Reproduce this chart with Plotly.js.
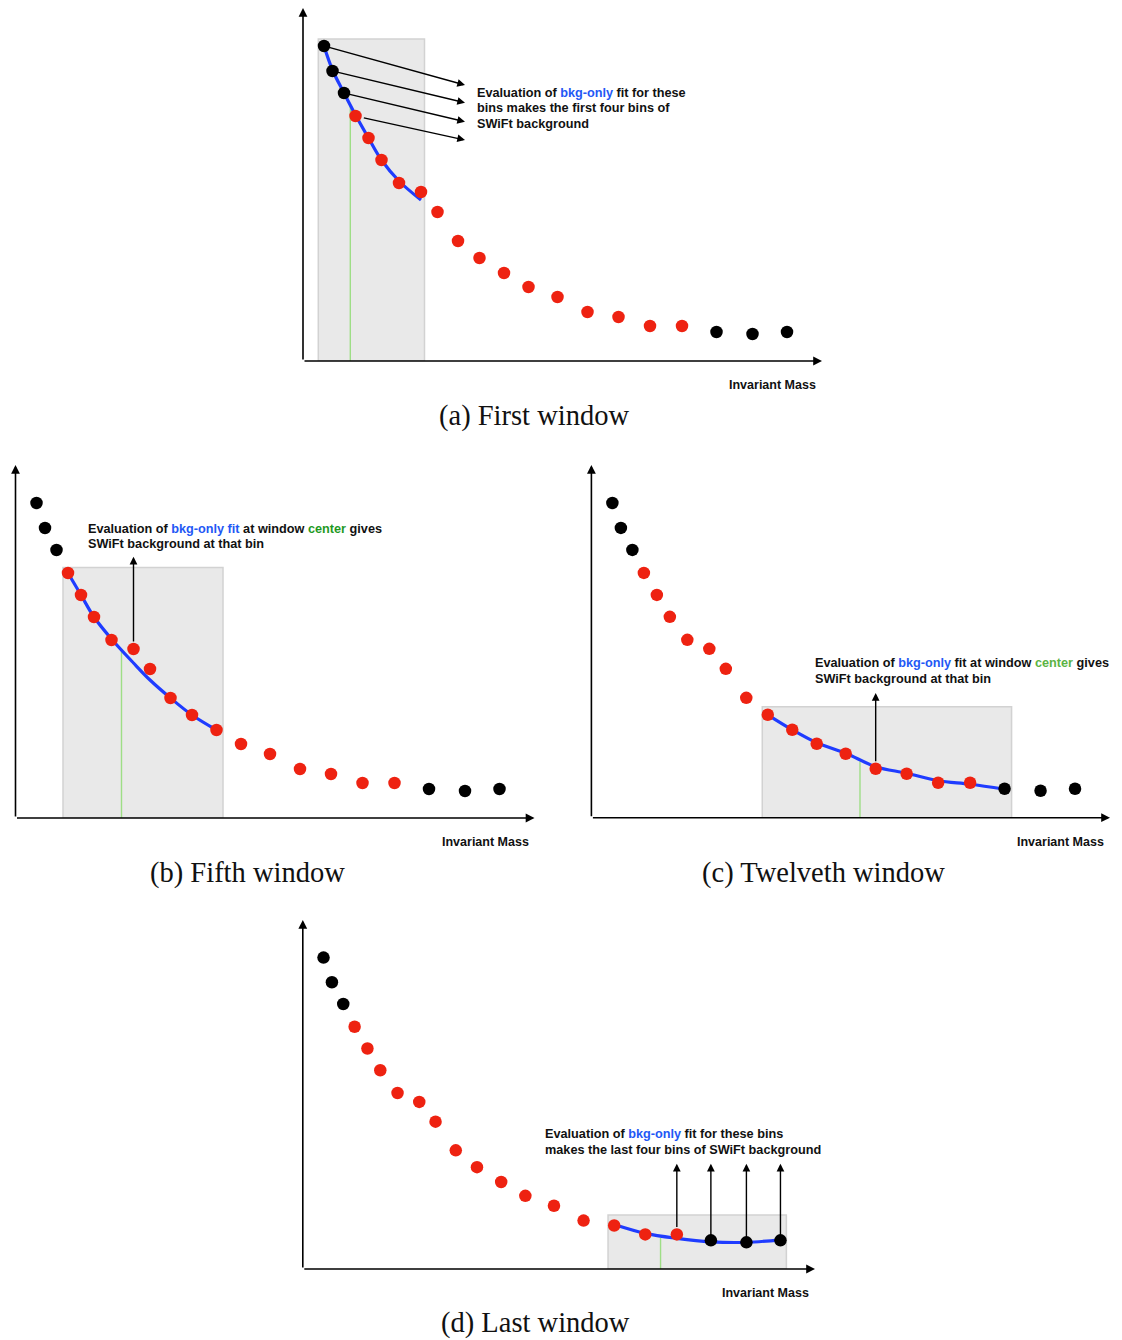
<!DOCTYPE html>
<html><head><meta charset="utf-8">
<script src="https://cdn.plot.ly/plotly-3.0.1.min.js"></script>
<style>html,body{margin:0;padding:0;background:#fff}</style>
</head><body><div id="chart" style="width:1122px;height:1340px"></div>
<script>
// ---- data (arbitrary units) ----
const massBins = [21, 29.5, 41, 52.5, 65.5, 78.5, 96, 118, 134.5, 155, 176.5, 201, 225.5, 254.5, 284.5, 315.5, 347, 379, 413.5, 449.5, 484];
const counts   = [315, 290, 268, 245, 223, 201, 178, 169, 149, 120, 103, 88, 74, 64, 49, 44, 35, 35, 29, 27, 29];
const edgeBins = [0, 1, 2, 18, 19, 20];          // bins drawn in black
const windowFirstBin = [0, 3, 10, 15];           // first bin of each window
const fitA = [315, 291, 268, 246, 223, 201, 180, 161];
const fitB = [245, 223, 201, 179, 155, 138, 120, 103, 88];
const fitC = [103, 88, 75, 64.5, 51, 44.5, 37, 33.5, 28.5];
const fitD = [45, 36, 31, 27.5, 27, 29.5];
const windowLo  = [15.3, 47.5, 171, 309.3];
const windowHi  = [121.5, 207.5, 420.5, 490];
const windowTop = [322, 250.5, 111, 54.6];
const centerX   = [47.3, 106, 268.8, 362.5];
const centerTop = [255, 167, 56.3, 31.4];
const captions = ['(a) First window', '(b) Fifth window', '(c) Twelveth window', '(d) Last window'];
const axisLabel = 'Invariant Mass';

const W = 1122, H = 1340;
const XMAX = 519, YMAX = 353;
const BLUE = '#1f3cff', RED = '#ee2211', GREEN_LINE = '#9ede86';
const TXT_BLUE = '#2358f5';
const SANS = 'Liberation Sans, Arial, Helvetica, sans-serif';
const LINE_GAP = 15.5;

// pixel boxes of the four axis frames [left, right, top, bottom]
const boxes = [
  [303, 822, 8, 361],
  [15.5, 534.5, 465, 818],
  [591.4, 1110, 465, 817.7],
  [302.8, 815, 920, 1269]
];
const fits = [fitA, fitB, fitC, fitD];
const blue = s => '<span style="color:' + TXT_BLUE + '">' + s + '</span>';
const texts = [
  ['Evaluation of ' + blue('bkg-only') + ' fit for these', 'bins makes the first four bins of', 'SWiFt background'],
  ['Evaluation of ' + blue('bkg-only fit') + ' at window <span style="color:#1f9a1f">center</span> gives', 'SWiFt background at that bin'],
  ['Evaluation of ' + blue('bkg-only') + ' fit at window <span style="color:#5cb444">center</span> gives', 'SWiFt background at that bin'],
  ['Evaluation of ' + blue('bkg-only') + ' fit for these bins', 'makes the last four bins of SWiFt background']
];
const textPos = [[172.2, 268.3], [70.3, 289.3], [221.4, 154.4], [243.4, 136.5]];
const captionPos = [[534.2, 416], [247, 873], [823, 873], [535, 1323]];

const dotColors = counts.map((c, i) => edgeBins.includes(i) ? '#000000' : RED);

const data = [], shapes = [], annotations = [];
const layout = {
  width: W, height: H, margin: {l: 0, r: 0, t: 0, b: 0},
  paper_bgcolor: '#fff', plot_bgcolor: 'rgba(0,0,0,0)', showlegend: false
};

boxes.forEach((b, p) => {
  const sfx = p === 0 ? '' : String(p + 1);
  const xa = 'x' + sfx, ya = 'y' + sfx;
  const axBase = {showgrid: false, zeroline: false, showline: false, showticklabels: false, ticks: '', fixedrange: true};
  layout['xaxis' + sfx] = Object.assign({}, axBase, {domain: [b[0] / W, b[1] / W], range: [0, XMAX], anchor: ya});
  layout['yaxis' + sfx] = Object.assign({}, axBase, {domain: [1 - b[3] / H, 1 - b[2] / H], range: [0, YMAX], anchor: xa});

  const f0 = windowFirstBin[p];
  const fit = fits[p];
  // fit curve
  data.push({type: 'scatter', mode: 'lines', xaxis: xa, yaxis: ya,
    x: massBins.slice(f0, f0 + fit.length), y: fit,
    line: {color: BLUE, width: 3.2, shape: 'spline', smoothing: 1}, hoverinfo: 'skip', cliponaxis: false});
  // data points
  data.push({type: 'scatter', mode: 'markers', xaxis: xa, yaxis: ya,
    x: massBins, y: counts, marker: {size: 12.5, color: dotColors}, hoverinfo: 'skip', cliponaxis: false});

  // window box
  shapes.push({type: 'rect', xref: xa, yref: ya, x0: windowLo[p], x1: windowHi[p], y0: 0, y1: windowTop[p],
    fillcolor: '#e9e9e9', line: {color: '#d2d2d2', width: 1.5}, layer: 'below'});
  // window center line
  shapes.push({type: 'line', xref: xa, yref: ya, x0: centerX[p], x1: centerX[p], y0: 0, y1: centerTop[p],
    line: {color: GREEN_LINE, width: 1.4}, layer: 'below'});

  // axes with arrowheads
  const axArrow = {xref: xa, yref: ya, axref: xa, ayref: ya, text: '', showarrow: true,
    arrowhead: 2, arrowsize: 1.1, arrowwidth: 1.6, arrowcolor: '#000', standoff: 0, ax: 0, ay: 0};
  annotations.push(Object.assign({}, axArrow, {x: XMAX, y: 0}));
  annotations.push(Object.assign({}, axArrow, {x: 0, y: YMAX}));

  // axis label
  annotations.push({xref: xa, yref: ya, x: XMAX, y: 0, xanchor: 'right', yanchor: 'middle', xshift: -4, yshift: -24,
    text: '<b>' + axisLabel + '</b>', showarrow: false, font: {family: SANS, size: 12.5, color: '#111'}});

  // explanatory text, one annotation per line
  texts[p].forEach((line, k) => {
    annotations.push({xref: xa, yref: ya, x: textPos[p][0], y: textPos[p][1], yshift: -LINE_GAP * k,
      xanchor: 'left', yanchor: 'middle', align: 'left',
      text: '<b>' + line + '</b>', showarrow: false, font: {family: SANS, size: 12.7, color: '#111'}});
  });

  // caption
  annotations.push({xref: 'paper', yref: 'paper', x: captionPos[p][0] / W, y: 1 - captionPos[p][1] / H,
    xanchor: 'center', yanchor: 'middle', text: captions[p], showarrow: false,
    font: {family: 'Liberation Serif, Times New Roman, serif', size: 28.5, color: '#111'}});
});

// arrows from points to the explanation
const pointerArrow = {text: '', showarrow: true, arrowhead: 2, arrowsize: 1.1, arrowwidth: 1.4, arrowcolor: '#000', standoff: 0};
// (a) first four bins -> text
const headsA = [276, 258.3, 239.3, 221];
headsA.forEach((hy, i) => {
  annotations.push(Object.assign({}, pointerArrow, {xref: 'x', yref: 'y', axref: 'x', ayref: 'y',
    x: 162, y: hy, ax: massBins[i], ay: counts[i], startstandoff: i === 3 ? 7 : 0}));
});
// (b) window center bin up to the text
annotations.push(Object.assign({}, pointerArrow, {xref: 'x2', yref: 'y2', axref: 'x2', ayref: 'y2',
  x: massBins[7], y: 261.3, ax: massBins[7], ay: counts[7], startstandoff: 6}));
// (c)
annotations.push(Object.assign({}, pointerArrow, {xref: 'x3', yref: 'y3', axref: 'x3', ayref: 'y3',
  x: massBins[14], y: 124.7, ax: massBins[14], ay: counts[14], startstandoff: 6}));
// (d) last four bins
[17, 18, 19, 20].forEach(i => {
  annotations.push(Object.assign({}, pointerArrow, {xref: 'x4', yref: 'y4', axref: 'x4', ayref: 'y4',
    x: massBins[i], y: 106.4, ax: massBins[i], ay: counts[i], startstandoff: i === 17 ? 6 : 0}));
});

layout.shapes = shapes;
layout.annotations = annotations;
Plotly.newPlot('chart', data, layout, {displayModeBar: false, staticPlot: true});
</script></body></html>
